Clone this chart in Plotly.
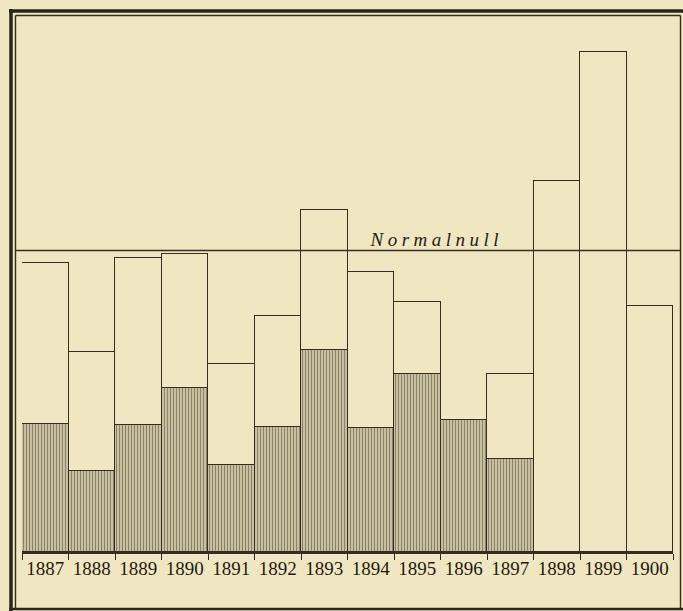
import plotly.graph_objects as go

# ---- data (heights above the baseline, arbitrary units) ----
years = [1887, 1888, 1889, 1890, 1891, 1892, 1893, 1894, 1895, 1896, 1897, 1898, 1899, 1900]
year_labels = [str(y) for y in years]
total_level = [289, 200, 294, 298, 188, 236, 342, 280, 250, 132, 178, 371, 500, 246]
hatched_level = [128, 81, 127, 164, 87, 125, 202, 124, 178, 132, 93, 0, 0, 0]
normalnull = 301.5
normalnull_label = "Normalnull"

BG = "#efe7c1"
INK = "#332e1f"

upper_part = [t - h for t, h in zip(total_level, hatched_level)]

# layout geometry (pixels)
W, H = 683, 611
ML, MR, MT, MB = 22, 10, 15, 59
PW = W - ML - MR
PH = H - MT - MB


def px_x(x):
    return (x - ML) / PW


def px_y(y):
    return (H - MB - y) / PH


fig = go.Figure()
fig.add_trace(go.Bar(
    x=years, y=hatched_level, width=1,
    marker=dict(color=BG, line=dict(color=INK, width=1.5),
                pattern=dict(shape="|", fgcolor="#262113", bgcolor=BG, size=3, solidity=0.6)),
    hoverinfo="skip", showlegend=False,
))
fig.add_trace(go.Bar(
    x=years, y=upper_part, width=1,
    marker=dict(color=BG, line=dict(color=INK, width=1.5)),
    hoverinfo="skip", showlegend=False,
))

shapes = []
# Normalnull line across the whole inner frame
shapes.append(dict(type="line", xref="paper", yref="y", x0=px_x(15), x1=px_x(680.5),
                   y0=normalnull, y1=normalnull, line=dict(color=INK, width=1.4), layer="above"))
# inner thin frame
for (x0, y0, x1, y1) in [(15.5, 15.5, 680.5, 15.5), (15.5, 15.5, 15.5, 608), (680.5, 15.5, 680.5, 608)]:
    shapes.append(dict(type="line", xref="paper", yref="paper", x0=px_x(x0), y0=px_y(y0),
                       x1=px_x(x1), y1=px_y(y1), line=dict(color=INK, width=1.4)))
# outer thick frame
shapes.append(dict(type="line", xref="paper", yref="paper", x0=px_x(9), y0=px_y(11),
                   x1=px_x(690), y1=px_y(11), line=dict(color="#2a2619", width=3.5)))
shapes.append(dict(type="line", xref="paper", yref="paper", x0=px_x(11), y0=px_y(9),
                   x1=px_x(11), y1=px_y(615), line=dict(color="#2a2619", width=3.5)))
shapes.append(dict(type="line", xref="paper", yref="paper", x0=px_x(9), y0=px_y(609),
                   x1=px_x(690), y1=px_y(609), line=dict(color="#2a2619", width=2.5)))

fig.update_layout(
    width=W, height=H,
    margin=dict(l=ML, r=MR, t=MT, b=MB),
    paper_bgcolor=BG, plot_bgcolor=BG,
    barmode="stack", bargap=0,
    shapes=shapes,
    annotations=[dict(x=1886.5 + (436 - ML) / (PW / 14), y=normalnull + 11, xref="x", yref="y",
                      text=normalnull_label, showarrow=False,
                      font=dict(family="Liberation Serif", size=19, color="#262113", style="italic"))],
    xaxis=dict(range=[1886.5, 1900.5], tickmode="array", tickvals=years, ticktext=year_labels,
               ticks="", showgrid=False, zeroline=False, showline=True, linecolor=INK, linewidth=1.5,
               tickfont=dict(family="Liberation Serif", size=19, color="#1f1b10"),
               ticklabelstandoff=-2,
               minor=dict(tick0=1886.5, dtick=1, ticks="outside", ticklen=6, tickwidth=1.3,
                          tickcolor=INK, showgrid=False),
               fixedrange=True),
    yaxis=dict(range=[0, PH], visible=False, fixedrange=True),
    hovermode=False,
)

post = """
document.body.style.margin='0';
document.body.style.background='%s';
document.querySelectorAll('.annotation-text').forEach(function(e){e.style.letterSpacing='4.5px';});
""" % BG
fig.write_html("out.html", config={"displayModeBar": False}, post_script=post)
